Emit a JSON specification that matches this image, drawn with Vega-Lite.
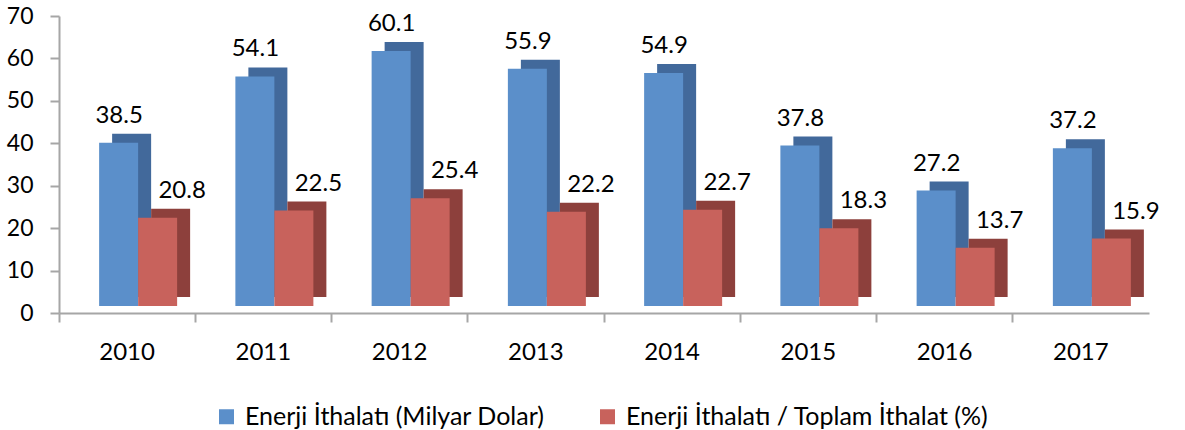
{
  "$schema": "https://vega.github.io/schema/vega-lite/v6.json",
  "autosize": "none",
  "padding": {"left": 59, "top": 16, "right": 36, "bottom": 117},
  "width": 1090,
  "height": 297,
  "background": "white",
  "config": {
    "view": {"stroke": null},
    "font": "Lato",
    "axis": {"labelFont": "Lato", "labelFontSize": 24, "labelColor": "#000000", "domainColor": "#a6a6a6", "domainWidth": 2, "tickColor": "#a6a6a6", "tickWidth": 2, "grid": false, "title": null}
  },
  "data": {
    "values": [
      {"year": "2010", "series": "Enerji İthalatı (Milyar Dolar)", "value": 38.5},
      {"year": "2010", "series": "Enerji İthalatı / Toplam İthalat (%)", "value": 20.8},
      {"year": "2011", "series": "Enerji İthalatı (Milyar Dolar)", "value": 54.1},
      {"year": "2011", "series": "Enerji İthalatı / Toplam İthalat (%)", "value": 22.5},
      {"year": "2012", "series": "Enerji İthalatı (Milyar Dolar)", "value": 60.1},
      {"year": "2012", "series": "Enerji İthalatı / Toplam İthalat (%)", "value": 25.4},
      {"year": "2013", "series": "Enerji İthalatı (Milyar Dolar)", "value": 55.9},
      {"year": "2013", "series": "Enerji İthalatı / Toplam İthalat (%)", "value": 22.2},
      {"year": "2014", "series": "Enerji İthalatı (Milyar Dolar)", "value": 54.9},
      {"year": "2014", "series": "Enerji İthalatı / Toplam İthalat (%)", "value": 22.7},
      {"year": "2015", "series": "Enerji İthalatı (Milyar Dolar)", "value": 37.8},
      {"year": "2015", "series": "Enerji İthalatı / Toplam İthalat (%)", "value": 18.3},
      {"year": "2016", "series": "Enerji İthalatı (Milyar Dolar)", "value": 27.2},
      {"year": "2016", "series": "Enerji İthalatı / Toplam İthalat (%)", "value": 13.7},
      {"year": "2017", "series": "Enerji İthalatı (Milyar Dolar)", "value": 37.2},
      {"year": "2017", "series": "Enerji İthalatı / Toplam İthalat (%)", "value": 15.9}
    ]
  },
  "encoding": {
    "x": {"field": "year", "type": "ordinal", "scale": {"paddingInner": 0, "paddingOuter": 0}, "axis": {"labelAngle": 0, "bandPosition": 0, "tickSize": 9, "labelPadding": 18}},
    "y": {"field": "value", "type": "quantitative", "scale": {"domain": [0, 70], "nice": false}, "axis": {"values": [0, 10, 20, 30, 40, 50, 60, 70], "tickSize": 9, "labelPadding": 17, "labelFontSize": 23}}
  },
  "layer": [
    {
      "transform": [{"filter": "datum.series === 'Enerji İthalatı (Milyar Dolar)'"}],
      "mark": {"type": "bar", "width": 39, "xOffset": 4.5, "yOffset": -16, "y2Offset": -16, "color": "#42699b"}
    },
    {
      "transform": [{"filter": "datum.series === 'Enerji İthalatı (Milyar Dolar)'"}],
      "mark": {"type": "bar", "width": 39, "xOffset": -8.5, "yOffset": -7, "y2Offset": -7},
      "encoding": {
        "color": {"field": "series", "type": "nominal", "scale": {"domain": ["Enerji İthalatı (Milyar Dolar)", "Enerji İthalatı / Toplam İthalat (%)"], "range": ["#5b8fca", "#c8625c"]},
          "legend": {"title": null, "orient": "none", "direction": "horizontal", "legendX": 155, "legendY": 388, "symbolType": "square", "symbolSize": 225, "symbolStrokeWidth": 0, "labelFontSize": 25, "labelFont": "Lato", "labelColor": "#000000", "labelLimit": 0, "columnPadding": 50, "labelOffset": 6}}
      }
    },
    {
      "transform": [{"filter": "datum.series === 'Enerji İthalatı / Toplam İthalat (%)'"}],
      "mark": {"type": "bar", "width": 39, "xOffset": 43.5, "yOffset": -16, "y2Offset": -16, "color": "#8d403c"}
    },
    {
      "transform": [{"filter": "datum.series === 'Enerji İthalatı / Toplam İthalat (%)'"}],
      "mark": {"type": "bar", "width": 39, "xOffset": 30.5, "yOffset": -7, "y2Offset": -7},
      "encoding": {
        "color": {"field": "series", "type": "nominal"}
      }
    },
    {
      "transform": [{"filter": "datum.series === 'Enerji İthalatı (Milyar Dolar)'"}],
      "mark": {"type": "text", "baseline": "alphabetic", "dy": -27, "xOffset": -8, "fontSize": 24, "font": "Lato", "color": "#000000"},
      "encoding": {"text": {"field": "value", "type": "quantitative", "format": ".1f"}}
    },
    {
      "transform": [{"filter": "datum.series === 'Enerji İthalatı / Toplam İthalat (%)'"}],
      "mark": {"type": "text", "baseline": "alphabetic", "dy": -27, "xOffset": 55, "fontSize": 24, "font": "Lato", "color": "#000000"},
      "encoding": {"text": {"field": "value", "type": "quantitative", "format": ".1f"}}
    }
  ]
}
